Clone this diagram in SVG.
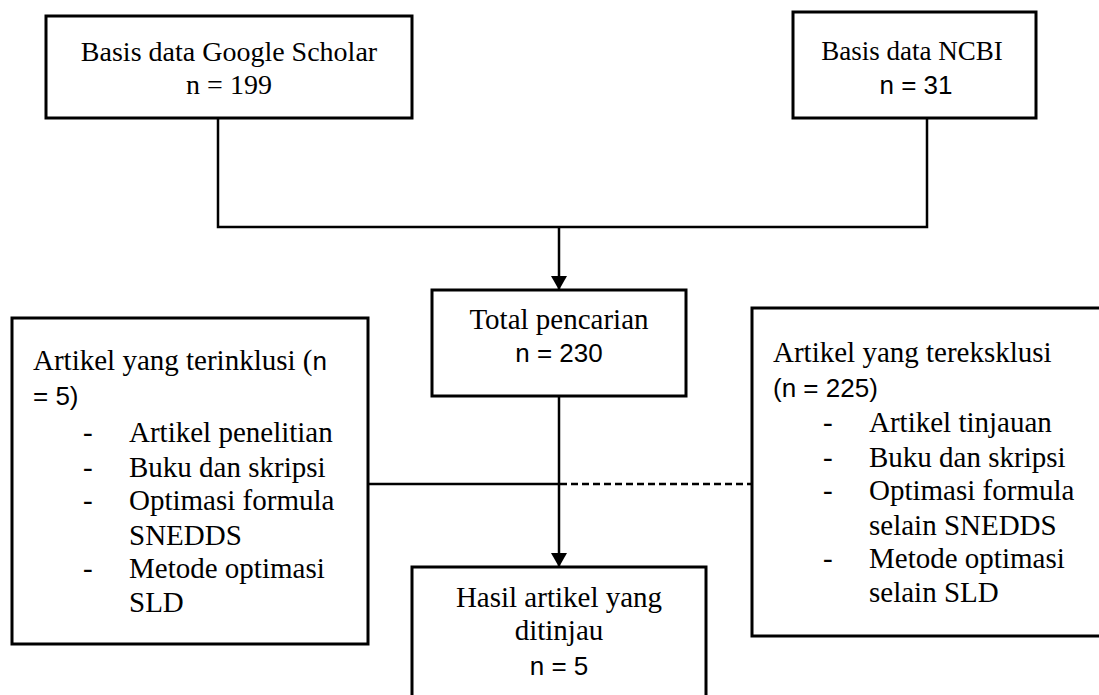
<svg xmlns="http://www.w3.org/2000/svg" width="1099" height="695" viewBox="0 0 1099 695">
<style>
.box{fill:#fff;stroke:#000;stroke-width:3}
.t{font-family:"Liberation Serif","Times New Roman",serif;font-size:29px;fill:#000}
.t28{font-size:28px}
.t27{font-size:27px}
.s{font-family:"Liberation Sans",Arial,sans-serif;font-size:26px;fill:#000}
.c{text-anchor:middle}
.ln{fill:none;stroke:#000;stroke-width:2.5}
.dash{stroke-dasharray:7 4}
</style>
<defs>
<marker id="arr" markerWidth="14" markerHeight="16" refX="14" refY="8" orient="auto" markerUnits="userSpaceOnUse">
<path d="M0,0 L14,8 L0,16 Z" fill="#000"/>
</marker>
</defs>
<g id="connectors">
<polyline class="ln" points="218,118 218,227 927,227 927,118"/>
<line class="ln" x1="559" y1="227" x2="559" y2="290" marker-end="url(#arr)"/>
<line class="ln" x1="559" y1="396" x2="559" y2="567" marker-end="url(#arr)"/>
<line class="ln" x1="368" y1="484" x2="560" y2="484"/>
<line class="ln dash" x1="560" y1="484" x2="751" y2="484"/>
</g>
<g id="node-scholar">
<rect class="box" x="46" y="16" width="366" height="102"/>
<text class="t t28 c" x="229" y="61">Basis data Google Scholar</text>
<text class="t t28 c" x="229" y="94">n = 199</text>
</g>
<g id="node-ncbi">
<rect class="box" x="793" y="12" width="243" height="106"/>
<text class="t t27 c" x="912" y="60">Basis data NCBI</text>
<text class="s c" x="916" y="94">n = 31</text>
</g>
<g id="node-total">
<rect class="box" x="432" y="290" width="254" height="106"/>
<text class="t c" x="559" y="329">Total pencarian</text>
<text class="s c" x="559" y="362">n = 230</text>
</g>
<g id="node-hasil">
<rect class="box" x="412" y="567" width="294" height="140"/>
<text class="t c" x="559" y="607">Hasil artikel yang</text>
<text class="t c" x="559" y="640">ditinjau</text>
<text class="s c" x="559" y="675">n = 5</text>
</g>
<g id="node-inklusi">
<rect class="box" x="12" y="318" width="356" height="326"/>
<text x="33" y="370"><tspan class="t">Artikel yang terinklusi (</tspan><tspan class="s">n</tspan></text>
<text class="s" x="33" y="405">= 5)</text>
<text class="t" x="83" y="442">-</text><text class="t" x="129" y="442">Artikel penelitian</text>
<text class="t" x="83" y="477">-</text><text class="t" x="129" y="477">Buku dan skripsi</text>
<text class="t" x="83" y="510">-</text><text class="t" x="129" y="510">Optimasi formula</text>
<text class="t" x="129" y="545">SNEDDS</text>
<text class="t" x="83" y="578">-</text><text class="t" x="129" y="578">Metode optimasi</text>
<text class="t" x="129" y="612">SLD</text>
</g>
<g id="node-eksklusi">
<rect class="box" x="752" y="308" width="352" height="328"/>
<text class="t" x="773" y="362">Artikel yang tereksklusi</text>
<text class="s" x="773" y="397">(n = 225)</text>
<text class="t" x="823" y="432">-</text><text class="t" x="869" y="432">Artikel tinjauan</text>
<text class="t" x="823" y="467">-</text><text class="t" x="869" y="467">Buku dan skripsi</text>
<text class="t" x="823" y="500">-</text><text class="t" x="869" y="500">Optimasi formula</text>
<text class="t" x="869" y="535">selain SNEDDS</text>
<text class="t" x="823" y="568">-</text><text class="t" x="869" y="568">Metode optimasi</text>
<text class="t" x="869" y="602">selain SLD</text>
</g>
</svg>
